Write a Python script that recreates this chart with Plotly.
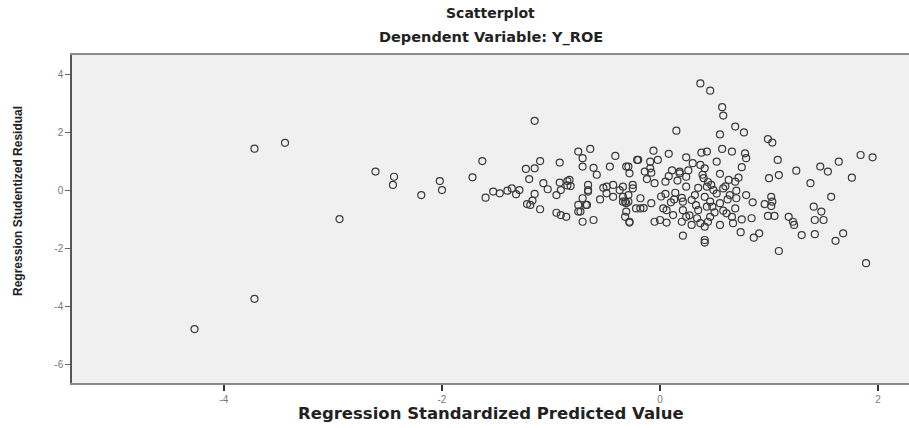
import plotly.graph_objects as go

# Regression Standardized Predicted Value (x) and Studentized Residual (y)
pred_x = [
    -4.27, -3.72, -3.72, -3.44, -2.94, -2.61,
    -2.44, -2.45, -2.19, -2.02, -2.00, -1.63, -1.72, -1.60, -1.53, -1.47,
    -1.36, -1.29, -1.23, -1.15, -1.10, -1.20, -1.07, -1.15, -1.19, -1.10,
    -1.03, -0.95, -0.92, -0.92, -0.83, -0.85, -0.82, -0.95, -0.91, -0.86,
    -0.75, -0.64, -0.71, -0.71, -0.61, -0.66, -0.66, -0.71, -0.68, -0.75,
    -0.71, -0.61, -0.41, -0.46, -0.29, -0.21, -0.49, -0.43, -0.37, -0.34,
    -0.29, -0.25, -0.31, -0.28, -1.15,
    -1.22, -1.17, -0.91, -0.85, -0.66, -0.49, -0.43, -0.34, -0.31, -0.22,
    -0.29, -0.75, -0.67, -0.73, -1.40, -1.32, -0.58, -0.55, -0.52,
    0.37, 0.46, 0.57, 0.58, 0.15, 0.69, 0.77, 0.55, 0.99, 1.03,
    -0.06, 0.08, 0.24, 0.38, 0.43, 0.57, 0.66, 0.78, 0.79, 0.52,
    1.08, 0.75, -0.20, -0.09, -0.02, -0.31, -0.09, -0.14, -0.08, -0.28,
    0.18, 0.37, 0.41, 0.55, 0.63, 0.69, 0.24, 0.40, 0.05, -0.05,
    -0.34, -0.25, 0.24, 0.43, 0.49, 0.14, 0.05, 0.32, 0.64, 0.79,
    0.70, 1.02, 1.03, -0.18, -0.32, -0.08, 0.21, 0.46, 0.96, 1.02,
    -0.18, 0.03, 0.06, 0.21, 0.35, 0.58, 0.69, 1.41, 1.48, 1.57,
    1.38, 1.47, 1.54, 1.64, 1.76, 1.84, 1.95, 1.25, 1.09, 1.00,
    1.42, 1.50, 1.18, 1.22, 1.23, 0.99, 1.05, 0.84, 0.75, 0.66,
    0.61, 0.46, 0.44, 0.34, 0.29, 0.41, 0.20, 0.06, -0.05, 0.00,
    -0.28, -0.32, 0.67, 0.74, 0.86, 0.91, 0.21, 0.41, 0.41, 1.09,
    1.30, 1.42, 1.61, 1.68, 1.89, 0.18, 0.41, 0.43, 0.55, 0.29,
    0.24, 0.12, 0.37, 0.55, 0.58, 0.16, 0.20, 0.26, 0.33, 0.44,
    0.50, 0.60, 0.10, 0.30, 0.47, 0.52, 0.62, 0.72, 0.35, 0.27,
    0.08, 0.13, 0.39, 0.48, -0.12, -0.15, 0.01, 0.11, 0.70, 0.85,
]
resid_y = [
    -4.77, -3.73, 1.45, 1.65, -0.98, 0.66,
    0.48, 0.20, -0.15, 0.33, 0.02, 1.02, 0.46, -0.24, -0.03, -0.09,
    0.08, 0.02, 0.75, 0.77, 1.02, 0.40, 0.26, -0.11, -0.49, -0.64,
    0.05, -0.15, 0.97, 0.28, 0.37, 0.33, 0.16, -0.76, -0.84, -0.90,
    1.35, 1.44, 1.12, 0.83, 0.79, 0.20, 0.02, -0.26, -0.49, -0.72,
    -1.07, -1.01, 1.20, 0.83, 0.83, 1.06, 0.14, 0.20, 0.02, -0.21,
    -0.38, 0.20, -0.72, -1.07, 2.41,
    -0.46, -0.34, 0.02, 0.18, -0.03, -0.09, -0.21, -0.38, -0.43, -0.61,
    -0.15, -0.49, -0.49, -0.72, 0.00, -0.12, 0.55, -0.30, 0.10,
    3.70, 3.45, 2.88, 2.59, 2.07, 2.21, 2.01, 1.94, 1.78, 1.66,
    1.38, 1.27, 1.15, 1.31, 1.35, 1.44, 1.35, 1.29, 1.12, 1.00,
    1.06, 0.81, 1.06, 1.00, 1.06, 0.83, 0.77, 0.66, 0.62, 0.60,
    0.66, 0.89, 0.77, 0.58, 0.37, 0.31, 0.48, 0.43, 0.31, 0.26,
    0.14, 0.08, 0.14, 0.14, 0.02, -0.07, -0.11, -0.15, -0.15, -0.15,
    -0.26, -0.21, -0.38, -0.26, -0.38, -0.43, -0.38, -0.38, -0.46, -0.53,
    -0.61, -0.61, -0.67, -0.67, -0.67, -0.69, -0.61, -0.55, -0.72, -0.21,
    0.26, 0.83, 0.66, 1.00, 0.45, 1.23, 1.15, 0.69, 0.54, 0.43,
    -1.01, -1.01, -0.90, -1.07, -1.18, -0.87, -0.87, -0.95, -0.99, -0.90,
    -0.78, -0.90, -1.07, -0.95, -1.18, -1.24, -1.07, -1.10, -1.07, -1.01,
    -1.10, -0.90, -1.12, -1.43, -1.62, -1.47, -1.55, -1.70, -1.79, -2.08,
    -1.53, -1.50, -1.73, -1.47, -2.50, 0.60, -0.21, -0.55, -0.43, -0.32,
    -0.90, -0.84, -1.12, -1.18, 0.08, 0.35, -0.25, 0.70, -0.50, 0.30,
    -0.75, 0.15, -0.40, 0.95, 0.20, -0.10, -0.30, 0.45, 0.10, -0.85,
    0.50, -0.30, 0.55, -0.55, 0.40, -0.60, -0.20, 0.70, 0.00, -0.40,
]

x_ticks = [-4, -2, 0, 2]
y_ticks = [-6, -4, -2, 0, 2, 4]

fig = go.Figure()
fig.add_trace(go.Scatter(
    x=pred_x, y=resid_y, mode="markers",
    marker=dict(symbol="circle-open", size=7, color="#3a3a3a",
                line=dict(width=1.2, color="#3a3a3a")),
    hoverinfo="skip", showlegend=False,
))

fig.update_layout(
    width=909, height=428,
    margin=dict(l=72, r=0, t=55, b=45),
    paper_bgcolor="white", plot_bgcolor="#f0f0f0",
    font=dict(family="Liberation Sans, Arial, sans-serif"),
    xaxis=dict(range=[-5.394, 2.284], tickvals=x_ticks,
               ticktext=[str(v) for v in x_ticks],
               ticks="outside", ticklen=6, tickwidth=1.5, tickcolor="#333",
               showline=True, linecolor="#8a8a8a", linewidth=1.5, mirror=True,
               showgrid=False, zeroline=False,
               tickfont=dict(size=10, color="#777")),
    yaxis=dict(range=[-6.631, 4.679], tickvals=y_ticks,
               ticktext=[str(v) for v in y_ticks],
               ticks="outside", ticklen=5, tickwidth=1.2, tickcolor="#666",
               showline=True, linecolor="#555", linewidth=1.5, mirror=False,
               showgrid=False, zeroline=False,
               tickfont=dict(size=10, color="#777")),
    annotations=[
        dict(text="<b>Scatterplot</b>", xref="paper", yref="paper", x=0.5, y=1.128,
             xanchor="center", yanchor="middle", showarrow=False,
             font=dict(family="DejaVu Sans", size=14, color="#222")),
        dict(text="<b>Dependent Variable: Y_ROE</b>", xref="paper", yref="paper",
             x=0.5, y=1.052, xanchor="center", yanchor="middle", showarrow=False,
             font=dict(family="DejaVu Sans", size=14.5, color="#222")),
        dict(text="<b>Regression Standardized Predicted Value</b>", xref="paper",
             yref="paper", x=0.5, y=-0.0915, xanchor="center", yanchor="middle",
             showarrow=False,
             font=dict(family="DejaVu Sans", size=16.5, color="#222")),
        dict(text="<b>Regression Studentized Residual</b>", xref="paper",
             yref="paper", x=-0.0645, y=0.555, xanchor="center", yanchor="middle",
             textangle=-90, showarrow=False,
             font=dict(family="Liberation Sans Narrow, Liberation Sans", size=12,
                       color="#222")),
    ],
)

fig.write_html("out.html", config={"displayModeBar": False},
               post_script="document.body.style.margin='0';document.body.style.padding='0';")
